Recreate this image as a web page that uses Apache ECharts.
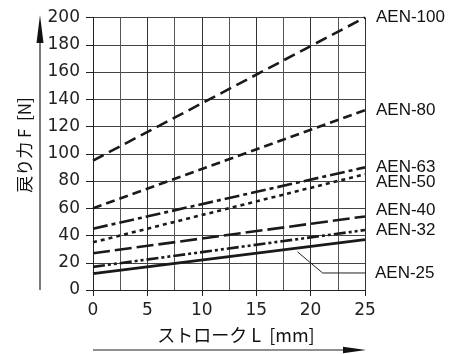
<!DOCTYPE html>
<html><head><meta charset="utf-8">
<script src="https://cdn.jsdelivr.net/npm/echarts@6/dist/echarts.min.js"></script>
<style>html,body{margin:0;padding:0;background:#fff}#c{width:451px;height:354px}</style>
</head><body><div id="c"></div>
<script>
// Stroke L [mm] at the two ends of each straight characteristic
const strokes = [0, 25];
const aen100 = [95, 200];
const aen80 = [60, 132];
const aen63 = [45, 90];
const aen50 = [35, 85];
const aen40 = [27, 54];
const aen32 = [17, 44];
const aen25 = [12, 37];
const seriesNames = ['AEN-100', 'AEN-80', 'AEN-63', 'AEN-50', 'AEN-40', 'AEN-32', 'AEN-25'];
const xTicks = [0, 5, 10, 15, 20, 25];
const yTicks = [0, 20, 40, 60, 80, 100, 120, 140, 160, 180, 200];
// leader line for the AEN-25 label
const leaderX = [18.8, 21.1, 25.2];
const leaderY = [28, 12.5, 12.5];

const values = [aen100, aen80, aen63, aen50, aen40, aen32, aen25];
const dashes = [[12, 6], [9, 5], [15, 4, 4, 4], [4, 4], [17, 5], [12, 3, 3, 3, 3, 3], 'solid'];
const labelOffsetY = [0, 0, 0, 8, -6, 0, 0];
const LFONT = '"Liberation Sans", Arial, sans-serif';
const TFONT = '"DejaVu Sans", sans-serif';

const series = values.map((v, i) => ({
  name: seriesNames[i],
  type: 'line',
  data: strokes.map((s, j) => [s, v[j]]),
  symbol: 'none',
  silent: true,
  lineStyle: { color: '#1a1a1a', width: 2.6, type: dashes[i], cap: 'butt' },
  endLabel: i < 6 ? {
    show: true, formatter: seriesNames[i], distance: 11, offset: [0, labelOffsetY[i]],
    color: '#111', fontSize: 17, fontFamily: LFONT
  } : { show: false },
  z: 3
}));
series.push({
  name: 'leader',
  type: 'line',
  data: leaderX.map((x, j) => [x, leaderY[j]]),
  symbol: 'none', silent: true, clip: false,
  lineStyle: { color: '#222', width: 1 },
  endLabel: { show: true, formatter: seriesNames[6], distance: 9, color: '#111', fontSize: 17, fontFamily: LFONT },
  z: 2
});

const chart = echarts.init(document.getElementById('c'), null, { renderer: 'canvas' });
chart.setOption({
  animation: false,
  backgroundColor: '#fff',
  grid: { left: 93, right: 86, top: 17.5, bottom: 64, containLabel: false },
  xAxis: {
    type: 'value', min: 0, max: 25, interval: 5,
    axisLine: { show: true, onZero: false, lineStyle: { color: '#222', width: 1 } },
    axisTick: { show: true, length: 6, inside: false, lineStyle: { color: '#222' } },
    minorTick: { show: true, splitNumber: 2, length: 0 },
    minorSplitLine: { show: true, lineStyle: { color: '#555', width: 1 } },
    splitLine: { show: true, lineStyle: { color: '#333', width: 1 } },
    axisLabel: { color: '#222', fontSize: 17, fontFamily: TFONT, margin: 12,
      formatter: v => xTicks.includes(v) ? String(v) : '' }
  },
  yAxis: {
    type: 'value', min: 0, max: 200, interval: 20,
    axisLine: { show: true, lineStyle: { color: '#222', width: 1 } },
    axisTick: { show: true, length: 7, lineStyle: { color: '#222' } },
    splitLine: { show: true, lineStyle: { color: '#444', width: 1 } },
    axisLabel: { color: '#222', fontSize: 17, fontFamily: TFONT, margin: 13,
      formatter: v => yTicks.includes(v) ? String(v) : '' }
  },
  graphic: [
    { type: 'line', shape: { x1: 40, y1: 290, x2: 40, y2: 36 }, style: { stroke: '#222', lineWidth: 1.2 } },
    { type: 'polygon', shape: { points: [[40, 15], [36.5, 43], [43.5, 43]] }, style: { fill: '#111' } },
    { type: 'line', shape: { x1: 93, y1: 350, x2: 350, y2: 350 }, style: { stroke: '#222', lineWidth: 1.2 } },
    { type: 'polygon', shape: { points: [[366, 350], [343, 346.8], [343, 353.2]] }, style: { fill: '#111' } },
    { type: 'text', x: 25, y: 145, rotation: Math.PI / 2,
      style: { text: '戻り力 F  [N]', fill: '#111', font: '17px "Noto Sans CJK JP", sans-serif', align: 'center', verticalAlign: 'middle' } },
    { type: 'text', x: 236, y: 335,
      style: { text: 'ストローク L  [mm]', fill: '#111', font: '18px "Noto Sans CJK JP", sans-serif', align: 'center', verticalAlign: 'middle' } }
  ],
  series: series
});
</script></body></html>
